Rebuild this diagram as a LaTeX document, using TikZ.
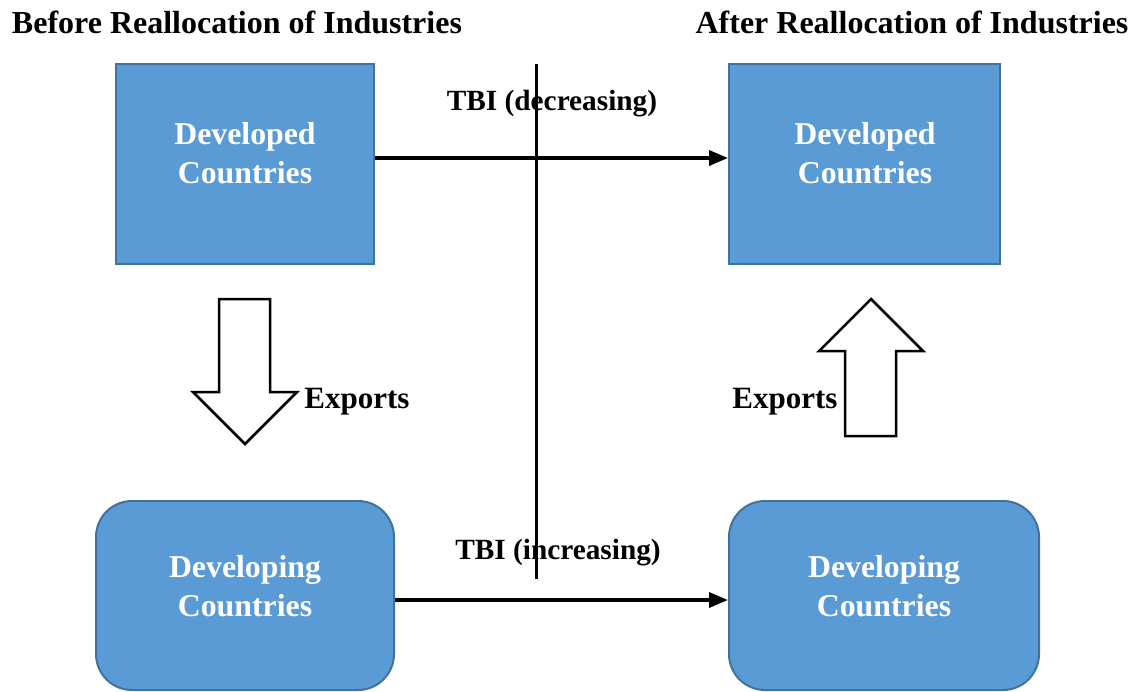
\documentclass[tikz,border=0pt]{standalone}
\usepackage{fontspec}
\setmainfont{Liberation Serif}
\usetikzlibrary{arrows.meta}
\definecolor{boxfill}{HTML}{5B9BD5}
\definecolor{boxline}{HTML}{41719C}
\begin{document}
\begin{tikzpicture}[x=1pt,y=-1pt,
  bigtext/.style={font=\fontsize{31}{39}\selectfont\bfseries, inner sep=0pt},
  titletext/.style={font=\fontsize{32}{39}\selectfont\bfseries, inner sep=0pt},
  tbitext/.style={font=\fontsize{29.3}{36}\selectfont\bfseries, inner sep=0pt},
  boxtext/.style={font=\fontsize{31.8}{39}\selectfont\bfseries, inner sep=0pt,
    text=white, align=center},
  sqbox/.style={draw=boxline, line width=2pt, fill=boxfill, inner sep=0pt},
  rndbox/.style={sqbox, rounded corners=36pt},
  conn/.style={line width=3.5pt, -{Triangle[length=19pt,width=15pt]}},
  divider/.style={line width=3.5pt},
  blockarrow/.style={draw=black, line width=2.5pt, fill=white, line join=miter}]
\useasboundingbox (0,0) rectangle (1137,691);

% titles
\node[titletext, anchor=base] (titleL) at (237,33) {Before Reallocation of Industries};
\node[titletext, anchor=base] (titleR) at (912,33) {After Reallocation of Industries};

% boxes
\node[sqbox, minimum width=258pt, minimum height=200pt] (devL) at (245,164) {};
\node[sqbox, minimum width=271pt, minimum height=200pt] (devR) at (864.5,164) {};
\node[rndbox, minimum width=298pt, minimum height=189pt] (dvgL) at (245,595.5) {};
\node[rndbox, minimum width=310pt, minimum height=189pt] (dvgR) at (884,595.5) {};

\node[boxtext] (devLt) at (245,153) {Developed\\Countries};
\node[boxtext] (devRt) at (865,153) {Developed\\Countries};
\node[boxtext] (dvgLt) at (245,586) {Developing\\Countries};
\node[boxtext] (dvgRt) at (884,586) {Developing\\Countries};

% vertical divider
\coordinate (divTop) at (536.5,64);
\coordinate (divBot) at (536.5,579);
\draw[divider] (divTop) -- (divBot);

% TBI connectors
\draw[conn] ([yshift=6pt]devL.east) -- ([yshift=6pt]devR.west);
\draw[conn] ([yshift=-4.5pt]dvgL.east) -- ([yshift=-4.5pt]dvgR.west);
\node[tbitext, anchor=base] (tbiDec) at (552,110) {TBI (decreasing)};
\node[tbitext, anchor=base] (tbiInc) at (558,559) {TBI (increasing)};

% export block arrows
\draw[blockarrow] (219,299) -- (270,299) -- (270,392) -- (297,392) -- (245,444)
  -- (193,392) -- (219,392) -- cycle;
\draw[blockarrow] (845,436) -- (896,436) -- (896,351) -- (923,351) -- (871,299)
  -- (819,351) -- (845,351) -- cycle;
\node[bigtext, anchor=base] (expL) at (357,408) {Exports};
\node[bigtext, anchor=base] (expR) at (785,408) {Exports};
\end{tikzpicture}
\end{document}
